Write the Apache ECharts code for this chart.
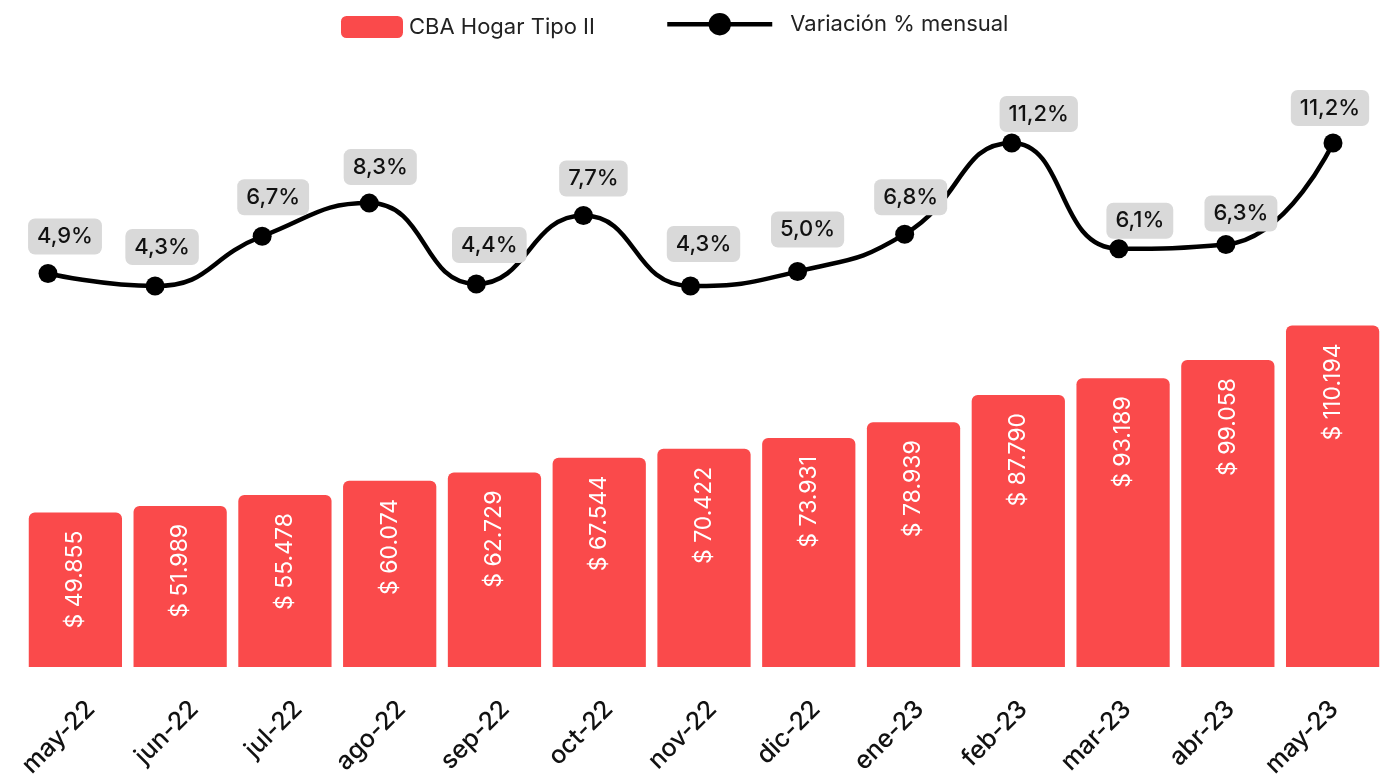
<!DOCTYPE html>
<html>
<head>
<meta charset="utf-8">
<script src="https://cdn.jsdelivr.net/npm/echarts@6/dist/echarts.min.js"></script>
<style>
  html, body { margin: 0; padding: 0; background: #fff; }
  #chart { width: 1386px; height: 783px; }
</style>
</head>
<body>
<div id="chart"></div>
<script>
const months = ['may-22', 'jun-22', 'jul-22', 'ago-22', 'sep-22', 'oct-22', 'nov-22',
  'dic-22', 'ene-23', 'feb-23', 'mar-23', 'abr-23', 'may-23']
const cbaValues = [49855, 51989, 55478, 60074, 62729, 67544, 70422, 73931, 78939, 87790, 93189, 99058, 110194]
const variation = [4.9, 4.3, 6.7, 8.3, 4.4, 7.7, 4.3, 5.0, 6.8, 11.2, 6.1, 6.3, 11.2]

// desplazamiento manual de las etiquetas (como en el gráfico original)
const labelDx = [17, 7, 11, 11, 13, 10, 13, 10, 6, 27, 21, 15, -3]
const labelDy = [-37, -39, -39, -36, -39, -37, -42, -42, -37, -29, -28, -31, -35]

const FONT = 'Inter, "Open Sans", sans-serif'
const RED = '#fa4a4b'

function fmtMoney(v) {
  return '$ ' + String(v).replace(/\B(?=(\d{3})+(?!\d))/g, '.')
}

const chart = echarts.init(document.getElementById('chart'))

const option = {
  animation: false,
  textStyle: { fontFamily: FONT },
  legend: [{
    data: ['CBA Hogar Tipo II'],
    left: 336,
    top: 11,
    itemWidth: 62,
    itemHeight: 22,
    icon: 'roundRect',
    itemStyle: { borderRadius: 11 },
    textStyle: { fontSize: 22, color: '#222', fontFamily: FONT, padding: [0, 0, 0, 1] }
  }, {
    data: ['Variación % mensual'],
    left: 660,
    top: 8,
    itemWidth: 105,
    itemHeight: 28,
    lineStyle: { width: 4.5 },
    textStyle: { fontSize: 22, color: '#222', fontFamily: FONT, padding: [0, 0, 0, 13] }
  }],
  grid: [
    { left: 23, right: 1, top: 60, bottom: 116 },
    { left: 48, right: 53, top: 143, bottom: 497 },
    { left: 39, right: -15, top: 60, bottom: 116 }
  ],
  xAxis: [{
    type: 'category',
    gridIndex: 0,
    data: months,
    axisLine: { show: false },
    axisTick: { show: false },
    axisLabel: { show: false }
  }, {
    type: 'category',
    gridIndex: 1,
    data: months,
    boundaryGap: false,
    show: false
  }, {
    type: 'category',
    gridIndex: 2,
    data: months,
    axisLine: { show: false },
    axisTick: { show: false },
    axisLabel: {
      rotate: 45,
      margin: 38,
      fontSize: 25,
      fontWeight: 500,
      color: '#111',
      fontFamily: FONT,
      interval: 0
    }
  }],
  yAxis: [{
    type: 'value',
    gridIndex: 0,
    min: 0,
    max: 195860,
    show: false,
    splitLine: { show: false }
  }, {
    type: 'value',
    gridIndex: 1,
    min: 4.3,
    max: 11.2,
    show: false,
    splitLine: { show: false }
  }, {
    type: 'value',
    gridIndex: 2,
    show: false,
    splitLine: { show: false }
  }],
  series: [{
    name: 'CBA Hogar Tipo II',
    type: 'bar',
    xAxisIndex: 0,
    yAxisIndex: 0,
    data: cbaValues,
    barCategoryGap: '11%',
    itemStyle: { color: RED, borderRadius: [6, 6, 0, 0] },
    label: {
      show: true,
      position: 'insideTop',
      distance: 18,
      rotate: 90,
      align: 'right',
      verticalAlign: 'middle',
      color: '#fff',
      fontSize: 23,
      fontFamily: FONT,
      formatter: p => fmtMoney(p.value)
    }
  }, {
    name: 'Variación % mensual',
    type: 'line',
    xAxisIndex: 1,
    yAxisIndex: 1,
    data: variation.map((v, i) => ({
      value: v,
      label: { offset: [labelDx[i], labelDy[i]] }
    })),
    smooth: 0.5,
    clip: false,
    symbol: 'circle',
    symbolSize: 19,
    itemStyle: { color: '#000' },
    lineStyle: { color: '#000', width: 4.5 },
    label: {
      show: true,
      position: 'inside',
      backgroundColor: '#d9d9d9',
      borderRadius: 7,
      padding: [8, 9, 6, 9],
      color: '#111',
      fontSize: 22,
      fontWeight: 500,
      fontFamily: FONT,
      formatter: p => p.value.toFixed(1).replace('.', ',') + '%'
    }
  }]
}

chart.setOption(option)
</script>
</body>
</html>
